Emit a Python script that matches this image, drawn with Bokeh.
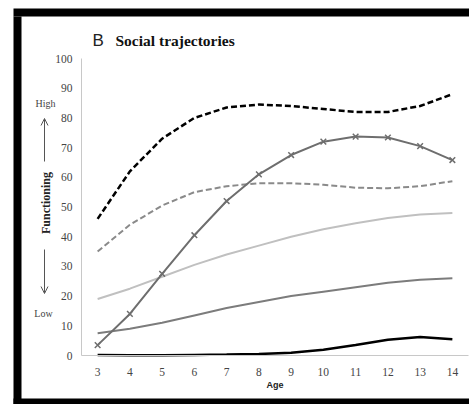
from bokeh.plotting import figure
from bokeh.models import FixedTicker, Label, Arrow, OpenHead, ColumnDataSource, Range1d
from bokeh.embed import file_html
from bokeh.resources import INLINE

ages = [3, 4, 5, 6, 7, 8, 9, 10, 11, 12, 13, 14]
high_dashed = [46, 62, 73, 80, 83.5, 84.5, 84, 83, 82, 82, 84, 88]
rising_x = [3.5, 14, 27.5, 40.5, 52, 61, 67.5, 72, 73.7, 73.4, 70.5, 65.8]
mid_dashed = [35, 44, 50.5, 55, 57, 58, 58, 57.5, 56.5, 56.3, 57, 58.7]
light_solid = [19, 22.5, 26.5, 30.5, 34, 37, 40, 42.5, 44.5, 46.3, 47.5, 48]
grey_solid = [7.5, 9, 11, 13.5, 16, 18, 20, 21.5, 23, 24.5, 25.5, 26]
low_solid = [0.2, 0.1, 0.1, 0.2, 0.3, 0.5, 0.9, 1.9, 3.5, 5.3, 6.2, 5.5]
y_ticks = [0, 10, 20, 30, 40, 50, 60, 70, 80, 90, 100]

W, H = 469, 404
# plotting area spans x 2.5..14.5 and y 0..100; the frame is extended to the
# full canvas so the surrounding decorations can be drawn as well
X0, X1 = -0.0116, 14.531
Y0, Y1 = -16.498, 119.529


def px(x):
    return X0 + x * (X1 - X0) / W


def py(y):
    return Y1 - y * (Y1 - Y0) / H


serif = "Liberation Serif"

p = figure(width=W, height=H, x_range=Range1d(X0, X1), y_range=Range1d(Y0, Y1),
           output_backend="svg", toolbar_location=None,
           min_border=0, min_border_left=0, min_border_right=0,
           min_border_top=0, min_border_bottom=0)
p.outline_line_color = None
p.grid.visible = False
p.background_fill_color = "white"
p.border_fill_color = "white"

for ax in (p.xaxis[0], p.yaxis[0]):
    ax.axis_line_color = "#c8c8c8"
    ax.axis_line_width = 1
    ax.major_tick_out = 0
    ax.major_tick_in = 0
    ax.minor_tick_out = 0
    ax.minor_tick_in = 0
    ax.major_label_text_font = serif
    ax.major_label_text_font_size = "11.5px"
    ax.major_label_text_color = "#444444"

p.xaxis.fixed_location = 0
p.xaxis.bounds = (2.5, 14.5)
p.yaxis.fixed_location = 2.5
p.yaxis.bounds = (0, 100)
p.xaxis.ticker = FixedTicker(ticks=ages)
p.yaxis.ticker = FixedTicker(ticks=y_ticks)
p.yaxis.major_label_standoff = 9
p.xaxis.major_label_standoff = 12
p.xaxis.axis_label = "Age"
p.xaxis.axis_label_text_font = "Liberation Sans"
p.xaxis.axis_label_text_font_style = "bold"
p.xaxis.axis_label_text_font_size = "9px"
p.xaxis.axis_label_text_color = "#222222"
p.xaxis.axis_label_standoff = 1

# black frame bands
p.quad(left=px(13), right=px(W), bottom=py(16), top=py(8), fill_color="black", line_color=None)
p.quad(left=px(13), right=px(21), bottom=py(H), top=py(16), fill_color="black", line_color=None)
p.quad(left=px(13), right=px(W), bottom=py(H), top=py(398), fill_color="black", line_color=None)

src = ColumnDataSource(dict(age=ages, a=high_dashed, b=rising_x, c=mid_dashed,
                            d=light_solid, e=grey_solid, f=low_solid))
p.line("age", "a", source=src, line_color="black", line_width=2.5, line_dash="6 3")
p.line("age", "c", source=src, line_color="#8a8a8a", line_width=2, line_dash="6 3")
p.line("age", "d", source=src, line_color="#c0c0c0", line_width=2)
p.line("age", "e", source=src, line_color="#7c7c7c", line_width=2)
p.line("age", "f", source=src, line_color="black", line_width=2.5)
p.line("age", "b", source=src, line_color="#6e6e6e", line_width=2)
p.scatter("age", "b", source=src, marker="x", size=8, line_color="#6e6e6e", line_width=1.5)

p.add_layout(Label(x=px(92), y=py(39.5), text="B", text_font="Liberation Sans",
                   text_font_size="17px", text_color="#222222", text_baseline="middle"))
p.add_layout(Label(x=px(115), y=py(40), text="Social trajectories", text_font=serif,
                   text_font_style="bold", text_font_size="15.5px", text_color="#111111",
                   text_baseline="middle"))
p.add_layout(Label(x=px(45.5), y=py(202.5), text="Functioning", text_font=serif,
                   text_font_style="bold", text_font_size="12px", text_color="#222222",
                   angle=1.5708, text_align="center", text_baseline="middle"))
p.add_layout(Label(x=px(45), y=py(103), text="High", text_font=serif, text_font_size="10px",
                   text_color="#444444", text_align="center", text_baseline="middle"))
p.add_layout(Label(x=px(43), y=py(313), text="Low", text_font=serif, text_font_size="10px",
                   text_color="#444444", text_align="center", text_baseline="middle"))
p.add_layout(Arrow(end=OpenHead(size=7, line_width=1, line_color="#555555"),
                   x_start=px(44), y_start=py(161), x_end=px(44), y_end=py(118),
                   line_color="#555555", line_width=1))
p.add_layout(Arrow(end=OpenHead(size=7, line_width=1, line_color="#555555"),
                   x_start=px(44), y_start=py(249), x_end=px(44), y_end=py(293),
                   line_color="#555555", line_width=1))

open("out.html", "w").write(file_html(p, INLINE))
